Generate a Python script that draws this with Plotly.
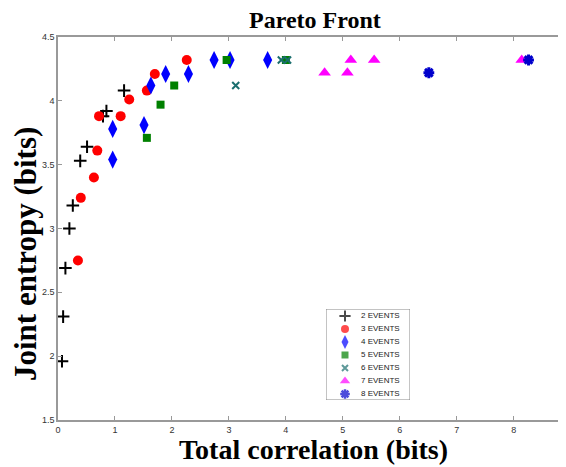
import plotly.graph_objects as go

x2 = [0.07, 0.09, 0.13, 0.20, 0.26, 0.39, 0.51, 0.79, 0.85, 1.16]
y2 = [1.96, 2.31, 2.69, 3.00, 3.18, 3.53, 3.64, 3.88, 3.92, 4.08]
x3 = [0.35, 0.40, 0.63, 0.69, 0.72, 1.10, 1.25, 1.56, 1.70, 2.26]
y3 = [2.75, 3.24, 3.40, 3.61, 3.88, 3.88, 4.01, 4.08, 4.21, 4.32]
x4 = [0.96, 0.96, 1.51, 1.63, 1.89, 2.29, 2.74, 3.02, 3.68]
y4 = [3.54, 3.78, 3.81, 4.12, 4.21, 4.21, 4.32, 4.32, 4.32]
x5 = [1.56, 1.80, 2.04, 2.96, 4.00]
y5 = [3.71, 3.97, 4.12, 4.32, 4.32]
x6 = [3.12, 3.92, 4.03]
y6 = [4.12, 4.32, 4.32]
x7 = [4.68, 5.08, 5.14, 5.55, 8.14]
y7 = [4.22, 4.22, 4.32, 4.32, 4.32]
x8 = [6.51, 8.26]
y8 = [4.22, 4.32]

names = ["2 EVENTS", "3 EVENTS", "4 EVENTS", "5 EVENTS", "6 EVENTS", "7 EVENTS", "8 EVENTS"]
xtick_vals = [0, 1, 2, 3, 4, 5, 6, 7, 8]
ytick_vals = [1.5, 2, 2.5, 3, 3.5, 4, 4.5]
ytick_text = ["1.5", "2", "2.5", "3", "3.5", "4", "4.5"]

symbols = ["cross-thin", "circle", "diamond-tall", "square", "x-thin", "triangle-up", "asterisk-open"]
colors = ["black", "#ff0000", "#0000ff", "#008000", "#1a6e6e", "#ff00ff", "#0000cc"]
sizes = [9, 10, 13, 8, 7, 11, 9]
line_w = [2, 0, 0, 0, 2, 0, 3]
xs_all = [x2, x3, x4, x5, x6, x7, x8]
ys_all = [y2, y3, y4, y5, y6, y7, y8]

fig = go.Figure()
for xs, ys, nm, sy, c, s, lw in zip(xs_all, ys_all, names, symbols, colors, sizes, line_w):
    fig.add_trace(go.Scatter(x=xs, y=ys, mode="markers", name=nm, showlegend=False,
                             marker=dict(symbol=sy, size=s, color=c, line=dict(color=c, width=lw))))

# custom compact legend (overlay axes, box in pixel-like units)
n = len(names)
row_y = [7 + 13 * i for i in range(n)]
leg_sizes = [8, 8, 10, 7, 6, 9, 8]
fig.add_trace(go.Scatter(
    x=[19] * n, y=row_y, mode="markers", xaxis="x2", yaxis="y2", showlegend=False, hoverinfo="skip",
    marker=dict(symbol=symbols, size=leg_sizes, color=colors,
                line=dict(color=colors, width=[2, 0, 0, 0, 2, 0, 2.5]))))
fig.add_trace(go.Scatter(
    x=[35] * n, y=row_y, mode="text", text=names, textposition="middle right",
    xaxis="x2", yaxis="y2", showlegend=False, hoverinfo="skip",
    textfont=dict(family="Arial", size=8, color="#222222")))
fig.add_shape(type="rect", xref="x2", yref="y2", x0=0, x1=84, y0=0, y1=91,
              line=dict(color="#888888", width=1), fillcolor="white", layer="below")

axis_common = dict(
    showgrid=False, zeroline=False, showline=True, linecolor="#999999", linewidth=1.5,
    mirror="ticks", ticks="inside", ticklen=4, tickcolor="#999999", automargin=False,
    tickfont=dict(family="Arial", size=9, color="#333333"),
)
fig.update_layout(
    xaxis=dict(range=[0, 8.9], tickvals=xtick_vals, **axis_common),
    yaxis=dict(range=[1.5, 4.5], tickvals=ytick_vals, ticktext=ytick_text, **axis_common),
    xaxis2=dict(domain=[(326 - 58) / 507, (410 - 58) / 507], range=[0, 84], visible=False,
                anchor="y2", fixedrange=True),
    yaxis2=dict(domain=[(420 - 400) / 383, (420 - 309) / 383], range=[91, 0], visible=False,
                anchor="x2", fixedrange=True),
    width=558, height=459,
    margin=dict(l=50, r=1, t=29, b=47, autoexpand=False),
    paper_bgcolor="white", plot_bgcolor="white",
    showlegend=False,
    annotations=[
        dict(text="<b>Pareto Front</b>", xref="paper", yref="paper",
             x=(315 - 58) / 507, y=(420 - 20) / 383, xanchor="center", yanchor="middle",
             showarrow=False, font=dict(family="Liberation Serif", size=24, color="black")),
        dict(text="<b>Total correlation (bits)</b>", xref="paper", yref="paper",
             x=(313 - 58) / 507, y=(420 - 449) / 383, xanchor="center", yanchor="middle",
             showarrow=False, font=dict(family="Liberation Serif", size=28, color="black")),
        dict(text="<b>Joint entropy (bits)</b>", xref="paper", yref="paper", textangle=-90,
             x=(25 - 58) / 507, y=(420 - 254) / 383, xanchor="center", yanchor="middle",
             showarrow=False, font=dict(family="Liberation Serif", size=31, color="black")),
    ],
)

fig.write_html("out.html")
